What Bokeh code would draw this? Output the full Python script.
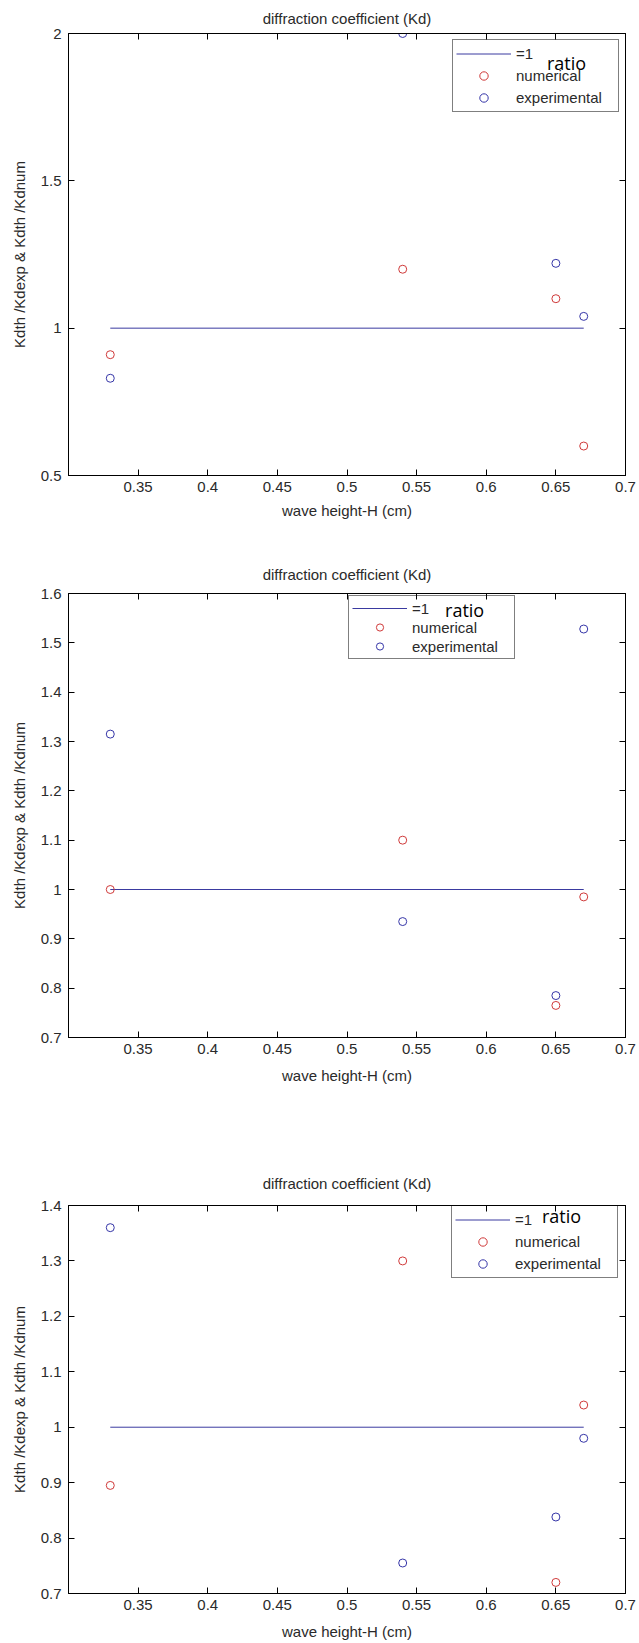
from bokeh.plotting import figure
from bokeh.layouts import column
from bokeh.models import Range1d, LinearAxis, FixedTicker, Legend, LegendItem
from bokeh.core.properties import value
from bokeh.embed import file_html
from bokeh.resources import INLINE

# ---------------- data ----------------
wave_height = [0.33, 0.54, 0.65, 0.67]
ref_x = [0.33, 0.67]
ref_y = [1, 1]

numerical_1 = [0.91, 1.20, 1.10, 0.60]
experimental_1 = [0.83, 2.00, 1.22, 1.04]

numerical_2 = [1.00, 1.10, 0.765, 0.985]
experimental_2 = [1.315, 0.935, 0.785, 1.528]

numerical_3 = [0.895, 1.30, 0.72, 1.04]
experimental_3 = [1.36, 0.755, 0.838, 0.98]

x_ticks = [0.35, 0.4, 0.45, 0.5, 0.55, 0.6, 0.65, 0.7]
x_tick_labels = ["0.35", "0.4", "0.45", "0.5", "0.55", "0.6", "0.65", "0.7"]

y_ticks_1 = [0.5, 1, 1.5, 2]
y_tick_labels_1 = ["0.5", "1", "1.5", "2"]
y_ticks_2 = [0.7, 0.8, 0.9, 1, 1.1, 1.2, 1.3, 1.4, 1.5, 1.6]
y_tick_labels_2 = ["0.7", "0.8", "0.9", "1", "1.1", "1.2", "1.3", "1.4", "1.5", "1.6"]
y_ticks_3 = [0.7, 0.8, 0.9, 1, 1.1, 1.2, 1.3, 1.4]
y_tick_labels_3 = ["0.7", "0.8", "0.9", "1", "1.1", "1.2", "1.3", "1.4"]

title_text = "diffraction coefficient (Kd)"
x_label = "wave height-H (cm)"
y_label = "Kdth /Kdexp & Kdth /Kdnum"
legend_labels = ["=1", "numerical", "experimental"]
annotation_text = "ratio"

# ---------------- style ----------------
FONT = "Liberation Sans"
FS = "15px"
TXT = "#2a2a2a"
RED = "#d03a3a"
BLUE = "#3636a8"
LINE_BLUE = "#3a3aa0"
X_LO, X_HI = 0.3, 0.7


def style_axis(ax, show_labels=True):
    ax.major_tick_in = 6
    ax.major_tick_out = 0
    ax.minor_tick_line_color = None
    ax.axis_line_color = "black"
    ax.major_tick_line_color = "black"
    ax.major_label_text_font = FONT
    ax.major_label_text_color = TXT
    if show_labels:
        ax.major_label_text_font_size = FS
    else:
        ax.major_label_text_font_size = "1px"
        ax.major_label_text_color = None
        ax.major_label_standoff = 0


def make_panel(num, exp, y_lo, y_hi, yt, ytl, height, b_top, b_bot, b_left, b_right,
               title_standoff, xlab_standoff, legend_loc, legend_row, ratio_frac):
    p = figure(width=639, height=height, output_backend="svg", toolbar_location=None,
               x_range=Range1d(X_LO, X_HI), y_range=Range1d(y_lo, y_hi),
               min_border_top=b_top, min_border_bottom=b_bot,
               min_border_left=b_left, min_border_right=b_right)
    p.grid.visible = False
    p.background_fill_color = "white"
    p.border_fill_color = "white"
    p.outline_line_color = "black"

    p.title.text = title_text
    p.title.align = "center"
    p.title.text_font = FONT
    p.title.text_font_size = FS
    p.title.text_font_style = "normal"
    p.title.text_color = TXT
    p.title.standoff = title_standoff

    x_over = dict(zip(x_ticks, x_tick_labels))
    y_over = dict(zip(yt, ytl))

    bx = p.xaxis[0]
    bx.ticker = FixedTicker(ticks=x_ticks)
    bx.major_label_overrides = x_over
    style_axis(bx)
    bx.major_label_standoff = 6
    bx.axis_label = x_label
    bx.axis_label_text_font = FONT
    bx.axis_label_text_font_size = FS
    bx.axis_label_text_font_style = "normal"
    bx.axis_label_text_color = TXT
    bx.axis_label_standoff = xlab_standoff

    ly = p.yaxis[0]
    ly.ticker = FixedTicker(ticks=yt)
    ly.major_label_overrides = y_over
    style_axis(ly)
    ly.major_label_standoff = 7
    ly.axis_label = y_label
    ly.axis_label_text_font = FONT
    ly.axis_label_text_font_size = FS
    ly.axis_label_text_font_style = "normal"
    ly.axis_label_text_color = TXT
    ly.axis_label_standoff = 10

    top = LinearAxis(ticker=FixedTicker(ticks=x_ticks))
    style_axis(top, show_labels=False)
    p.add_layout(top, "above")
    right = LinearAxis(ticker=FixedTicker(ticks=yt))
    style_axis(right, show_labels=False)
    p.add_layout(right, "right")

    r_line = p.line(ref_x, ref_y, line_color=LINE_BLUE, line_width=1)
    r_num = p.scatter(wave_height, num, marker="circle", size=8, fill_color=None,
                      line_color=RED, line_width=1)
    r_exp = p.scatter(wave_height, exp, marker="circle", size=8, fill_color=None,
                      line_color=BLUE, line_width=1)

    # "ratio" annotation, placed at a fraction of the plot frame
    fx, fy = ratio_frac
    p.text(x=[X_LO + fx * (X_HI - X_LO)], y=[y_lo + fy * (y_hi - y_lo)],
           text=[annotation_text], text_font=value("Open Sans"),
           text_font_size="18px", text_color="black",
           text_baseline="alphabetic", text_align="left")

    legend = Legend(
        items=[LegendItem(label=legend_labels[0], renderers=[r_line]),
               LegendItem(label=legend_labels[1], renderers=[r_num]),
               LegendItem(label=legend_labels[2], renderers=[r_exp])],
        location=legend_loc, margin=6, padding=3, spacing=1,
        glyph_width=55, glyph_height=legend_row, label_height=legend_row,
        label_width=99, label_standoff=5,
        label_text_font=FONT, label_text_font_size=FS, label_text_color=TXT,
        border_line_color="black", border_line_width=1,
        background_fill_color="white", background_fill_alpha=0.0,
    )
    p.add_layout(legend, "center")
    return p


p1 = make_panel(numerical_1, experimental_1, 0.5, 2.0, y_ticks_1, y_tick_labels_1,
                height=540, b_top=33, b_bot=65, b_left=67, b_right=11,
                title_standoff=14, xlab_standoff=7,
                legend_loc="top_right", legend_row=21, ratio_frac=(0.859, 0.934))
p2 = make_panel(numerical_2, experimental_2, 0.7, 1.6, y_ticks_2, y_tick_labels_2,
                height=600, b_top=53, b_bot=103, b_left=63, b_right=14,
                title_standoff=21, xlab_standoff=10,
                legend_loc=(280, 378), legend_row=18, ratio_frac=(0.676, 0.962))
p3 = make_panel(numerical_3, experimental_3, 0.7, 1.4, y_ticks_3, y_tick_labels_3,
                height=503, b_top=65, b_bot=50, b_left=68, b_right=11,
                title_standoff=27, xlab_standoff=10,
                legend_loc=(383, 315), legend_row=21, ratio_frac=(0.850, 0.972))

layout = column(p1, p2, p3, spacing=0)

open("out.html", "w").write(file_html(layout, INLINE))
